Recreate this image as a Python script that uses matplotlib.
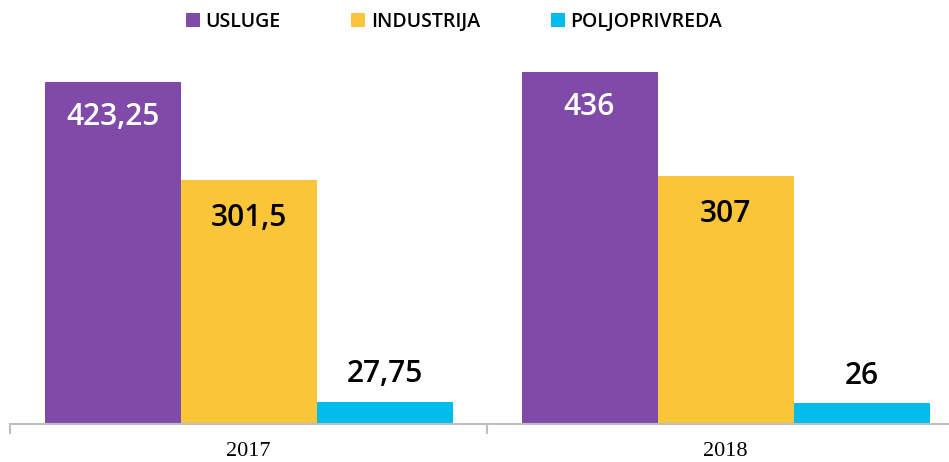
import numpy as np
import matplotlib
matplotlib.use("Agg")
import matplotlib.pyplot as plt
from matplotlib.lines import Line2D

years = ["2017", "2018"]
sectors = ["USLUGE", "INDUSTRIJA", "POLJOPRIVREDA"]
usluge = [423.25, 436]
industrija = [301.5, 307]
poljoprivreda = [27.75, 26]
labels = [["423,25", "436"], ["301,5", "307"], ["27,75", "26"]]
colors = ["#804BA8", "#FBC53A", "#00BCEB"]

fig = plt.figure(figsize=(9.49, 4.62), dpi=100)
ax = fig.add_axes([10 / 949, 38 / 462, 939 / 949, 388 / 462])

x = np.arange(len(years))
w = 136 / 477
series = [usluge, industrija, poljoprivreda]
for i, vals in enumerate(series):
    pos = x + (i - 1) * w
    ax.bar(pos, vals, width=w, color=colors[i], linewidth=0)
    for j, v in enumerate(vals):
        if i == 0:
            ty, col = v - 44, "white"
        elif i == 1:
            ty, col = v - 47, "black"
        else:
            ty, col = v + 34, "black"
        ax.text(pos[j], ty, labels[i][j], ha="center", va="center",
                color=col, fontsize=21.5, fontweight="semibold", family="Open Sans")

for s in ["top", "right", "left"]:
    ax.spines[s].set_visible(False)
ax.spines["bottom"].set_color("#BFBFBF")
ax.spines["bottom"].set_linewidth(1.5)
ax.set_yticks([])
ax.set_xticks([-0.5, 0.5])
ax.set_xticklabels([])
ax.tick_params(axis="x", length=7, width=1.5, color="#BFBFBF", direction="out")
ax.set_xlim(-0.5, -0.5 + 939 / 477)
ax.set_ylim(0, 480)
for j, yr in enumerate(years):
    ax.text(x[j], -0.072, yr, transform=ax.get_xaxis_transform(), ha="center",
            va="center", fontsize=16, family="Liberation Serif")

handles = [Line2D([], [], marker="s", linestyle="none", markersize=10,
                  markerfacecolor=c, markeredgewidth=0) for c in colors]
fig.legend(handles, sectors, loc="center", bbox_to_anchor=(0.477, 0.952), ncol=3,
           frameon=False, prop={"family": "Open Sans", "size": 14, "weight": "semibold"},
           handletextpad=0.15, columnspacing=3.5, handlelength=1.0)

fig.savefig("out.png", dpi=100)
